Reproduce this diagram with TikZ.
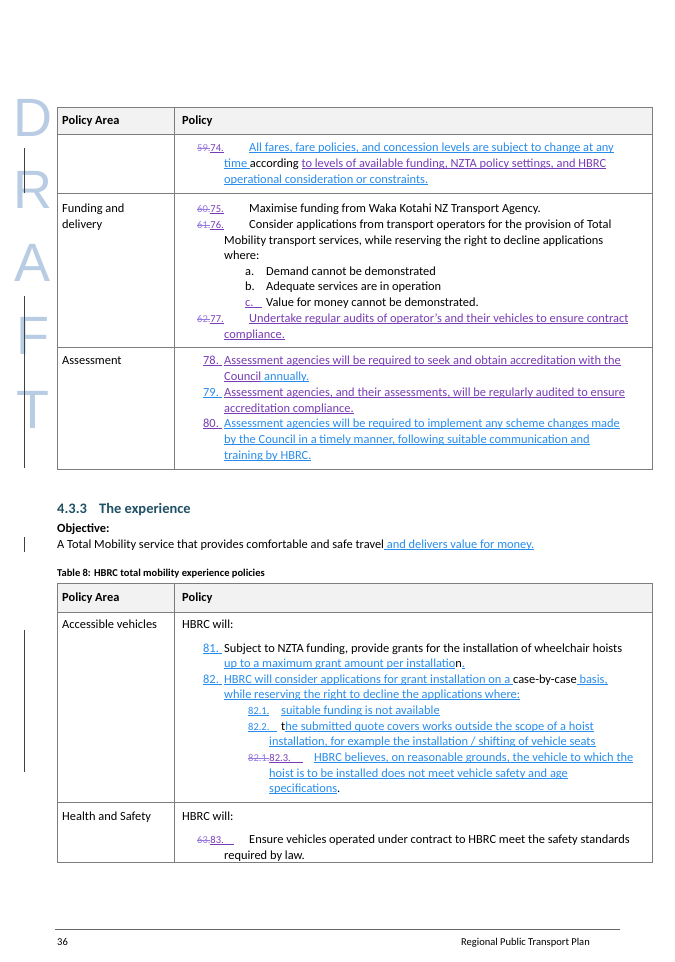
\documentclass[tikz,border=0pt]{standalone}
\usepackage{fontspec}
\setmainfont{Carlito}
\newfontfamily\draftfont{Liberation Sans}
\newsavebox\ulbox
\newcommand\uline[1]{\sbox\ulbox{#1}\rlap{\rule[-2pt]{\wd\ulbox}{0.55pt}}\usebox\ulbox}
\newcommand\sout[1]{\sbox\ulbox{#1}\rlap{\rule[2.8pt]{\wd\ulbox}{0.5pt}}\usebox\ulbox}
\definecolor{blu}{RGB}{40,140,235}
\definecolor{pur}{RGB}{120,60,180}
\definecolor{lpur}{RGB}{150,120,225}
\definecolor{teal}{RGB}{31,80,100}
\definecolor{brd}{RGB}{125,125,125}
\definecolor{hdr}{RGB}{242,242,242}
\definecolor{drf}{RGB}{184,204,228}
\newcounter{nn}
\newcommand\T[3]{\stepcounter{nn}\node[t] (t\arabic{nn}) at (#1,#2) {#3};}
\newcommand\B[1]{{\color{blu}\uline{#1}}}
\newcommand\PU[1]{{\color{pur}\uline{#1}}}
\newcommand\NS[1]{{\fontsize{10.5}{12}\selectfont #1}}
\newcommand\ST[1]{{\color{lpur}\sout{#1}}}
\begin{document}
\begin{tikzpicture}[x=1pt,y=-1pt,
  t/.style={anchor=base west,inner sep=0pt,font=\fontsize{12.4}{14}\selectfont},
  hd/.style={anchor=base west,inner sep=0pt,font=\fontsize{12.4}{14}\selectfont\bfseries},
  dl/.style={inner sep=0pt,font=\draftfont\fontsize{54}{54}\selectfont,text=drf},
  rl/.style={draw=brd,line width=0.9pt},
  bar/.style={draw=black!75,line width=0.9pt}]
\useasboundingbox (0,0) rectangle (675,962);
% DRAFT
\node[dl] (dD) at (33,118) {D};
\node[dl] (dR) at (33,190) {R};
\node[dl] (dA) at (33,263) {A};
\node[dl] (dF) at (33,336) {F};
\node[dl] (dT) at (33,410) {T};
\coordinate (b1a) at (24,148); \coordinate (b1b) at (24,193);
\coordinate (b2a) at (24,296); \coordinate (b2b) at (24,468);
\coordinate (b3a) at (24,537); \coordinate (b3b) at (24,552);
\coordinate (b4a) at (24,630); \coordinate (b4b) at (24,772);
\draw[bar] (b1a)--(b1b); \draw[bar] (b2a)--(b2b);
\draw[bar] (b3a)--(b3b); \draw[bar] (b4a)--(b4b);
% Table 1
\fill[hdr] (57,107) rectangle (652,134);
\draw[rl] (57,107) rectangle (652,469);
\draw[rl] (57,134)--(652,134);
\draw[rl] (57,193)--(652,193);
\draw[rl] (57,347)--(652,347);
\draw[rl] (174,107)--(174,469);
\node[hd] (h1) at (62,124) {Policy Area};
\node[hd] (h2) at (182,124) {Policy};
\T{197}{151}{\NS{\ST{59.}\PU{74.}}}
\T{249}{151}{\B{All fares, fare policies, and concession levels are subject to change at any}}
\T{224}{167}{\B{time }according \PU{to levels of available funding, NZTA policy settings, and HBRC}}
\T{224}{183}{\B{operational consideration or constraints.}}
\T{62}{212}{Funding and}
\T{62}{228}{delivery}
\T{197}{212}{\NS{\ST{60.}\PU{75.}}}
\T{249}{212}{Maximise funding from Waka Kotahi NZ Transport Agency.}
\T{197}{228}{\NS{\ST{61.}\PU{76.}}}
\T{249}{228}{Consider applications from transport operators for the provision of Total}
\T{224}{244}{Mobility transport services, while reserving the right to decline applications}
\T{224}{259}{where:}
\T{245}{275}{a.}
\T{266}{275}{Demand cannot be demonstrated}
\T{245}{290}{b.}
\T{266}{290}{Adequate services are in operation}
\T{245}{306}{\PU{c.\hspace{8pt}}}
\T{266}{306}{Value for money cannot be demonstrated.}
\T{197}{322}{\NS{\ST{62.}\PU{77.}}}
\T{249}{322}{\PU{Undertake regular audits of operator’s and their vehicles to ensure contract}}
\T{224}{338}{\PU{compliance.}}
\T{62}{364}{Assessment}
\T{203}{364}{\PU{78.\ }}
\T{224}{364}{\PU{Assessment agencies will be required to seek and obtain accreditation with the}}
\T{224}{380}{\PU{Council}\B{ annually.}}
\T{203}{396}{\B{79.\ }}
\T{224}{396}{\PU{Assessment agencies, and their assessments, will be regularly audited to ensure}}
\T{224}{412}{\PU{accreditation compliance.}}
\T{203}{427}{\PU{80.\ }}
\T{224}{427}{\B{Assessment agencies will be required to implement any scheme changes made}}
\T{224}{443}{\B{by the Council in a timely manner, following suitable communication and}}
\T{224}{459}{\B{training by HBRC.}}
% Section
\node[anchor=base west,inner sep=0pt,font=\fontsize{14.5}{16}\selectfont\bfseries,text=teal] (s1) at (57,513) {4.3.3};
\node[anchor=base west,inner sep=0pt,font=\fontsize{14.5}{16}\selectfont\bfseries,text=teal] (s2) at (99,513) {The experience};
\node[hd] (ob) at (57,532) {Objective:};
\T{57}{548}{A Total Mobility service that provides comfortable and safe travel\B{ and delivers value for money.}}
\node[anchor=base west,inner sep=0pt,font=\fontsize{10.5}{12}\selectfont\bfseries] (cap) at (57,576) {Table 8: HBRC total mobility experience policies};
% Table 2
\fill[hdr] (57,583) rectangle (652,612);
\draw[rl] (57,583) rectangle (652,862);
\draw[rl] (57,612)--(652,612);
\draw[rl] (57,802)--(652,802);
\draw[rl] (174,583)--(174,862);
\node[hd] (h3) at (62,601) {Policy Area};
\node[hd] (h4) at (182,601) {Policy};
\T{62}{628}{Accessible vehicles}
\T{182}{628}{HBRC will:}
\T{203}{652}{\B{81.\ }}
\T{224}{652}{Subject to NZTA funding, provide grants for the installation of wheelchair hoists}
\T{224}{667}{\B{up to a maximum grant amount per installatio}n\B{.}}
\T{203}{683}{\B{82.\ }}
\T{224}{683}{\B{HBRC will consider applications for grant installation on a }case-by-case\B{ basis,}}
\T{224}{698}{\B{while reserving the right to decline the applications where:}}
\T{248}{714}{\NS{\B{82.1.}}}
\T{281}{714}{\B{suitable funding is not available}}
\T{248}{730}{\NS{\B{82.2.\hspace{8pt}}}}
\T{281}{730}{t\B{he submitted quote covers works outside the scope of a hoist}}
\T{269}{745}{\B{installation, for example the installation / shifting of vehicle seats}}
\T{248}{761}{\NS{\ST{82.1.}\PU{82.3.\hspace{12pt}}}}
\T{314}{761}{\B{HBRC believes, on reasonable grounds, the vehicle to which the}}
\T{269}{777}{\B{hoist is to be installed does not meet vehicle safety and age}}
\T{269}{792}{\B{specifications}.}
\T{62}{820}{Health and Safety}
\T{182}{820}{HBRC will:}
\T{197}{843}{\NS{\ST{63.}\PU{83.\hspace{10pt}}}}
\T{249}{843}{Ensure vehicles operated under contract to HBRC meet the safety standards}
\T{224}{859}{required by law.}
% Footer
\draw[draw=black!60,line width=0.9pt] (55,929)--(620,929);
\node[anchor=base west,inner sep=0pt,font=\fontsize{10.5}{12}\selectfont] (pg) at (57,945) {36};
\node[anchor=base east,inner sep=0pt,font=\fontsize{10.5}{12}\selectfont] (ft) at (590,945) {Regional Public Transport Plan};
\end{tikzpicture}
\end{document}
